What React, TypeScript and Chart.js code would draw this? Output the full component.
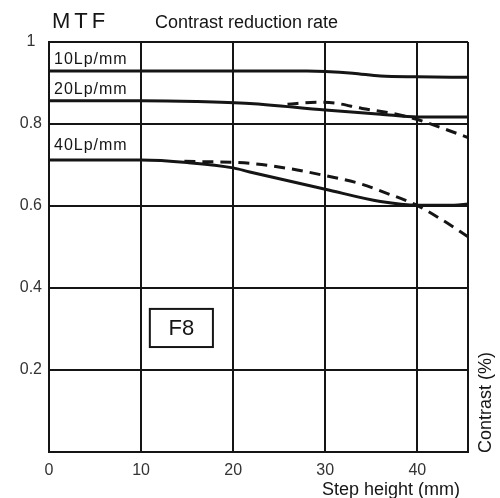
import React, { useEffect, useRef } from 'react';
import { Chart, registerables } from 'chart.js';

Chart.register(...registerables);

// ---- Data ----
const xTickValues = [0, 10, 20, 30, 40];
const xMax = 45.5;
const yTickValues = [0, 0.2, 0.4, 0.6, 0.8, 1];

const chartTitle = 'MTF';
const subTitle = 'Contrast reduction rate';
const xTitle = 'Step height (mm)';
const yTitle = 'Contrast (%)';
const apertureLabel = 'F8';
const seriesLabels = ['10Lp/mm', '20Lp/mm', '40Lp/mm'];

// 10 Lp/mm (solid)
const x10 = [0, 10, 20, 28, 30, 33, 36, 40, 45.5];
const y10 = [0.929, 0.929, 0.929, 0.929, 0.928, 0.924, 0.917, 0.915, 0.914];

// 20 Lp/mm (solid)
const x20 = [0, 10, 16, 21.8, 30, 36, 40, 45.5];
const y20 = [0.857, 0.857, 0.855, 0.85, 0.834, 0.824, 0.817, 0.817];

// 20 Lp/mm (dashed)
const x20d = [25.9, 29, 31, 34, 37.3, 40, 42.7, 45.5];
const y20d = [0.848, 0.853, 0.851, 0.838, 0.826, 0.811, 0.79, 0.767];

// 40 Lp/mm (solid)
const x40 = [0, 10, 15, 20, 21.8, 30, 36, 40, 44, 45.5];
const y40 = [0.712, 0.712, 0.706, 0.693, 0.683, 0.641, 0.611, 0.602, 0.602, 0.605];

// 40 Lp/mm (dashed)
const x40d = [14.7, 21.8, 26.4, 30, 33.7, 36.2, 40, 42.7, 45.5];
const y40d = [0.709, 0.704, 0.69, 0.674, 0.655, 0.635, 0.601, 0.566, 0.525];

const toPoints = (xs: number[], ys: number[]) => xs.map((x, i) => ({ x, y: ys[i] }));

const INK = '#151515';
const FONT = '"Liberation Sans", Arial, Helvetica, sans-serif';

const annotationPlugin = {
  id: 'annotations',
  afterDraw(chart: any) {
    const { ctx, scales } = chart;
    const xs = scales.x;
    const ys = scales.y;
    ctx.save();
    ctx.fillStyle = INK;
    ctx.strokeStyle = INK;
    ctx.textBaseline = 'alphabetic';
    ctx.textAlign = 'left';

    // Title "MTF"
    ctx.font = `22px ${FONT}`;
    (ctx as any).letterSpacing = '4px';
    ctx.fillText(chartTitle, 52, 28);

    // Subtitle
    (ctx as any).letterSpacing = '0px';
    ctx.font = `18px ${FONT}`;
    ctx.fillText(subTitle, 155, 28);

    // Series labels
    ctx.font = `16px ${FONT}`;
    (ctx as any).letterSpacing = '1px';
    const lx = xs.getPixelForValue(0) + 5;
    ctx.fillText(seriesLabels[0], lx, 64);
    ctx.fillText(seriesLabels[1], lx, 94);
    ctx.fillText(seriesLabels[2], lx, 150);
    (ctx as any).letterSpacing = '0px';

    // F8 box
    const bx0 = xs.getPixelForValue(10.95);
    const bx1 = xs.getPixelForValue(17.8);
    const by0 = ys.getPixelForValue(0.349);
    const by1 = ys.getPixelForValue(0.256);
    ctx.lineWidth = 2;
    ctx.strokeRect(bx0, by0, bx1 - bx0, by1 - by0);
    ctx.font = `22px ${FONT}`;
    ctx.textAlign = 'center';
    ctx.textBaseline = 'middle';
    ctx.fillText(apertureLabel, (bx0 + bx1) / 2, (by0 + by1) / 2 + 1);

    // X title
    ctx.textAlign = 'left';
    ctx.textBaseline = 'alphabetic';
    ctx.font = `18px ${FONT}`;
    ctx.fillText(xTitle, 322, 495);

    // Y title (rotated, right side)
    ctx.save();
    ctx.translate(491, 453);
    ctx.rotate(-Math.PI / 2);
    ctx.textAlign = 'left';
    ctx.fillText(yTitle, 0, 0);
    ctx.restore();

    ctx.restore();
  },
};

export default function App() {
  const canvasRef = useRef<HTMLCanvasElement | null>(null);

  useEffect(() => {
    if (!canvasRef.current) return;
    const lineBase = {
      borderColor: INK,
      borderWidth: 3,
      pointRadius: 0,
      fill: false,
      tension: 0.4,
      cubicInterpolationMode: 'monotone' as const,
    };
    const chart = new Chart(canvasRef.current, {
      type: 'line',
      data: {
        datasets: [
          { ...lineBase, label: seriesLabels[0], data: toPoints(x10, y10) },
          { ...lineBase, label: seriesLabels[1], data: toPoints(x20, y20) },
          { ...lineBase, label: seriesLabels[1] + ' (dashed)', data: toPoints(x20d, y20d), borderDash: [11, 7] },
          { ...lineBase, label: seriesLabels[2], data: toPoints(x40, y40) },
          { ...lineBase, label: seriesLabels[2] + ' (dashed)', data: toPoints(x40d, y40d), borderDash: [11, 7] },
        ],
      },
      options: {
        responsive: false,
        animation: false,
        layout: { padding: { top: 42, right: 32, left: 0, bottom: 0 } },
        plugins: {
          legend: { display: false },
          tooltip: { enabled: false },
          title: { display: false },
        },
        scales: {
          x: {
            type: 'linear',
            min: 0,
            max: xMax,
            afterBuildTicks: (scale: any) => {
              scale.ticks = [...xTickValues, xMax].map((v) => ({ value: v }));
            },
            afterFit: (scale: any) => {
              scale.height = 46;
            },
            grid: { color: INK, lineWidth: 2, drawTicks: false },
            border: { display: true, color: INK, width: 2 },
            ticks: {
              padding: 9,
              color: '#333',
              font: { family: FONT, size: 16 },
              maxRotation: 0,
              autoSkip: false,
              callback: (v: any) => (xTickValues.includes(Number(v)) ? String(v) : ''),
            },
          },
          y: {
            type: 'linear',
            min: 0,
            max: 1,
            afterBuildTicks: (scale: any) => {
              scale.ticks = yTickValues.map((v) => ({ value: v }));
            },
            afterFit: (scale: any) => {
              scale.width = 49;
            },
            grid: { color: INK, lineWidth: 2, drawTicks: false },
            border: { display: true, color: INK, width: 2 },
            ticks: {
              padding: 7,
              color: '#333',
              crossAlign: 'center',
              font: { family: FONT, size: 16 },
              autoSkip: false,
              callback: (v: any) => {
                const n = Number(v);
                if (n === 0) return '';
                if (n >= 1) return '1';
                return n.toFixed(1);
              },
            },
          },
        },
      },
      plugins: [annotationPlugin],
    });
    return () => chart.destroy();
  }, []);

  return (
    <div style={{ position: 'absolute', left: 0, top: 0, width: 500, height: 498, background: '#fff' }}>
      <canvas ref={canvasRef} width={500} height={498} style={{ display: 'block', width: 500, height: 498 }} />
    </div>
  );
}
